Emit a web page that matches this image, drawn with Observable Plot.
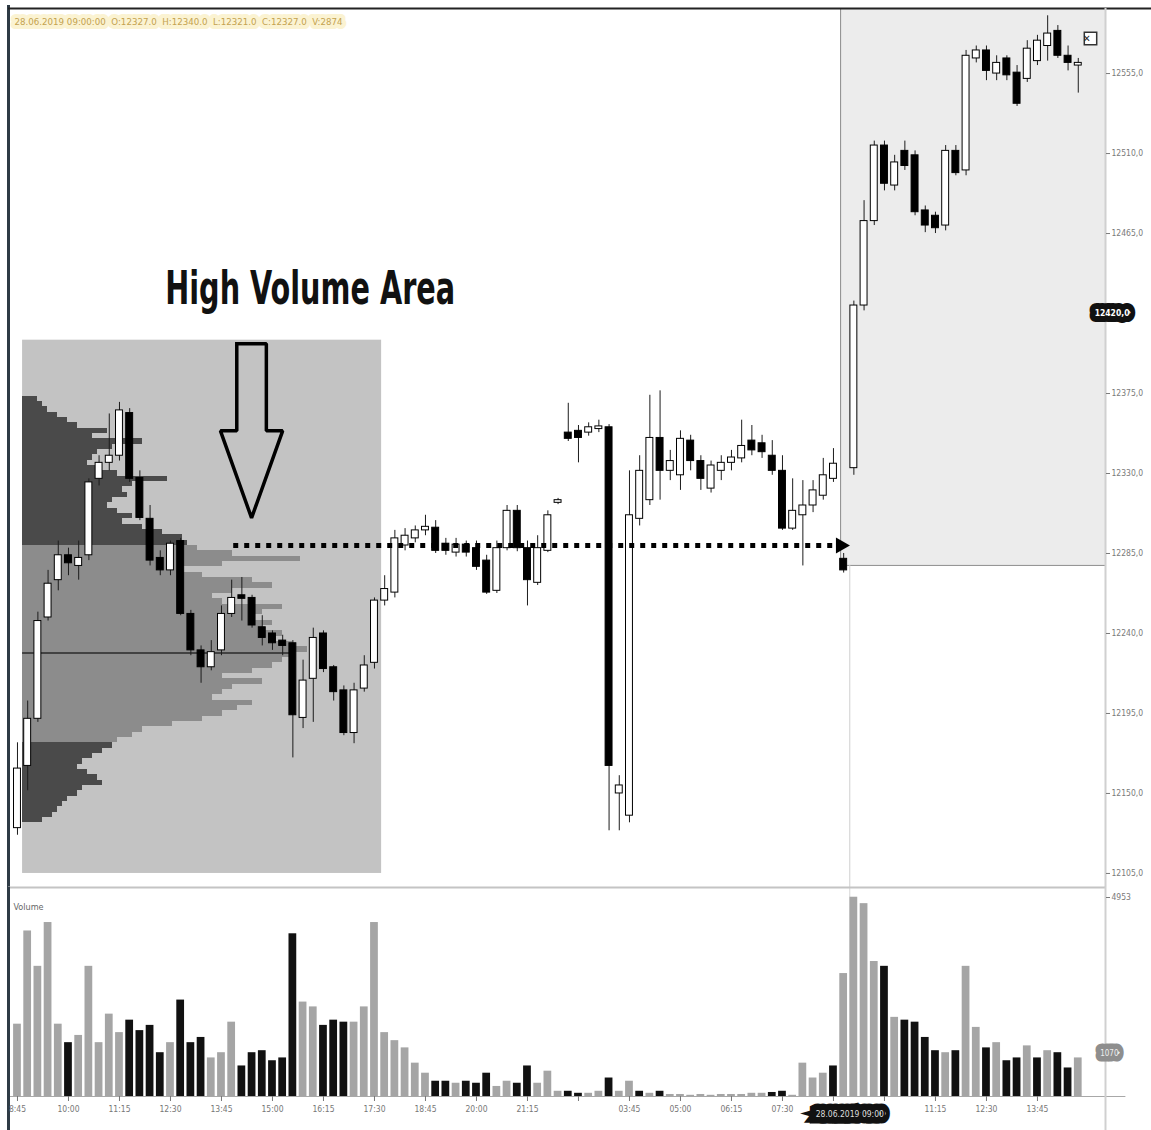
<!DOCTYPE html>
<html><head><meta charset="utf-8">
<script src="https://cdn.jsdelivr.net/npm/d3@7"></script>
<script src="https://cdn.jsdelivr.net/npm/@observablehq/plot@0.6"></script>
<style>
html,body{margin:0;padding:0;background:#fff;}
#chart{width:1151px;height:1130px;overflow:hidden;position:relative;}
#chart svg{display:block;overflow:visible;}
</style></head><body><div id="chart"></div>
<script>
// ---------- DATA (15-minute candles, bar index 0..104) ----------
const opens  = [12130.5,12165.5,12192,12249,12270,12284,12278,12284,12327,12336,12340,12364,12327.5,12304.5,12282.5,12275.5,12292,12251,12230.5,12221,12230.5,12251,12261.5,12260,12243.5,12240,12236,12234.5,12192.5,12214.5,12240,12221,12208,12184,12209,12223.5,12258.5,12263,12289.5,12293.5,12298,12299.5,12290.5,12285.5,12290,12288,12281,12264,12288,12309,12288,12268.5,12286.5,12313.5,12353,12354,12353,12355,12356,12150,12137.5,12304.5,12315,12350,12331.5,12329,12348.5,12337,12321.5,12331.5,12336,12338.5,12348.5,12347,12340,12331.5,12299,12306.5,12312,12317.5,12327,12282,12333,12424.5,12472,12514.5,12492,12511.5,12509,12478,12475,12469.5,12511.5,12500.5,12563.5,12568,12555,12563.5,12555.5,12552,12562,12570.5,12579,12565,12559.5];
const highs  = [12178.5,12202,12252,12275.5,12292,12288,12292,12327,12340,12363.5,12370,12366.5,12331.5,12312,12286.5,12292,12293.5,12253,12233,12236,12255.5,12270,12271.5,12261.5,12250,12241.5,12239,12236,12225,12243,12241.5,12222,12210.5,12212,12227.5,12260,12272.5,12298,12299,12300.5,12306.5,12303.5,12293.5,12293.5,12292,12292,12284,12292,12312,12312,12292,12295,12309,12316,12369.5,12357,12358.5,12360,12357.5,12160,12331.5,12340,12374,12376.5,12343,12354,12351.5,12340,12337,12340,12343,12360,12357,12351.5,12348.5,12340,12327,12326,12326,12338.5,12344,12285,12427,12483.5,12517,12517,12509,12517,12511.5,12480.5,12477,12514.5,12514.5,12568,12570.5,12570.5,12565,12565,12559.5,12573.5,12576.5,12587.5,12582,12570.5,12563.5];
const lows   = [12126.5,12151.5,12190,12247,12264,12272.5,12270,12281,12323,12331.5,12337,12325,12303.5,12278,12272.5,12272.5,12250,12227.5,12212,12219,12227.5,12249,12247,12243,12233,12230.5,12227.5,12170,12186.5,12190,12218,12202,12182.5,12178,12207,12220,12255.5,12260,12286.5,12291,12295,12285,12284,12283,12283,12275.5,12262,12262.5,12286.5,12286,12255.5,12267,12285.5,12312.5,12348,12336,12351,12353,12129,12129,12133.5,12300.5,12312,12315,12326,12320.5,12331.5,12320.5,12319,12326,12331.5,12336,12340,12338.5,12329,12298,12298,12278,12308,12315,12325,12274,12329,12421.5,12469.5,12489,12489,12500.5,12475,12465.5,12465,12466.5,12497.5,12497.5,12561,12551,12551,12551,12536.5,12550,12559.5,12562,12563.5,12556.5,12544];
const closes = [12164,12192,12247,12268,12284,12279.5,12282.5,12325,12336,12340,12365.5,12327,12305,12281,12275.5,12290.5,12251,12230.5,12221,12229.5,12251,12260,12259.5,12244.5,12237.5,12234.5,12233,12194,12213.5,12237.5,12220,12207,12184,12208,12222,12258.5,12265,12293.5,12295,12298,12300,12286.5,12286.5,12290,12285.5,12277.5,12263,12288,12309,12288,12270,12288,12306.5,12315,12349.5,12350,12356,12356.5,12165.5,12154.5,12306.5,12331.5,12350,12331.5,12337,12349.5,12337,12327,12334.5,12336,12339,12345.5,12343,12342,12331.5,12299,12309,12312,12320.5,12329,12335.5,12275.5,12424.5,12472,12514.5,12493,12505,12503,12477,12469.5,12468,12511.5,12499,12565,12568,12556.5,12561,12554,12538,12569,12573.5,12577.5,12565,12561,12561];
const volumes = [1800,4120,3240,4330,1800,1340,1520,3240,1340,2050,1590,1900,1640,1770,1090,1340,2400,1340,1470,960,1090,1850,760,1090,1140,890,960,4050,2350,2230,1770,1900,1850,1850,2230,4330,1590,1390,1210,830,580,380,380,330,380,330,580,250,380,330,760,330,630,130,130,80,80,130,460,130,380,130,80,130,50,50,30,50,30,50,50,50,80,80,100,130,30,830,460,580,760,3060,4960,4800,3360,3240,1970,1900,1850,1470,1140,1090,1140,3240,1720,1210,1340,890,960,1260,960,1140,1090,710,960];
const downVolumeBars = [5,11,12,13,14,16,17,18,22,23,24,25,26,27,30,31,32,41,42,44,45,46,49,50,54,55,58,61,63,74,75,80,85,87,88,89,90,92,95,97,98,100,102,103];

// volume profile of the first session (price level -> contracts)
const profileLevels = [12372,12369,12366,12363,12360,12357,12354,12351,12348,12345,12342,12339,12336,12333,12330,12327,12324,12321,12318,12315,12312,12309,12306,12303,12300,12297,12294,12291,12288,12285,12282,12279,12276,12273,12270,12267,12264,12261,12258,12255,12252,12249,12246,12243,12240,12237,12234,12231,12228,12225,12222,12219,12216,12213,12210,12207,12204,12201,12198,12195,12192,12189,12186,12183,12180,12177,12174,12171,12168,12165,12162,12159,12156,12153,12150,12147,12144,12141,12138,12135];
const profileVolumes = [150,200,250,350,450,550,850,700,1200,900,750,700,650,800,950,1450,1100,1000,1050,900,850,950,1100,1000,1200,1400,1600,1650,1750,2100,2780,2000,1600,1800,2300,2500,2100,1900,2000,2600,2400,2300,2500,2400,2600,2500,2700,2850,2700,2600,2500,2300,2000,2400,2100,2000,1900,2300,2150,2000,1800,1500,1200,1100,950,900,800,700,600,550,650,750,800,600,550,450,400,350,300,200];
const valueAreaHigh = 12288, valueAreaLow = 12178, pocPrice = 12229;

// axis ticks (labels hidden under the cursor box are blank)
const priceTicks = [12555,12510,12465,12375,12330,12285,12240,12195,12150,12105];
const timeTickBars = [0,5,10,15,20,25,30,35,40,45,50,55,60,65,70,75,80,85,90,95,100];
const timeTickLabels = ["8:45","10:00","11:15","12:30","13:45","15:00","16:15","17:30","18:45","20:00","21:15","","03:45","05:00","06:15","07:30","","","11:15","12:30","13:45"];
const volumeTopTick = 4953, lastVolumeLabel = 1070;
const badgePrice = 12420;
const cursorDate = "28.06.2019 09:00";
const headerText = "28.06.2019 09:00:00  O:12327.0  H:12340.0  L:12321.0  C:12327.0  V:2874";

// annotation anchors (bar index / price)
const profileStart = 0.5, profileEnd = 35.7, profileTop = 12405, profileBottom = 12105, pocEnd = 27.1;
const hvaLevel = 12289.5, hvaFrom = 21.2, hvaTo = 80.3;
const selectionStart = 80.7, selectionLow = 12278.3, crossBar = 81.6;
const arrowX = [21.5,24.4,24.4,26.0,22.95,19.9,21.5,21.5];
const arrowY = [12403,12403,12354,12354,12305,12354,12354,12403];
const titleBar = 28.7, titlePrice = 12434;

// ---------- CHART ----------
const W = 1151;
const xDomain = [-0.88, 106.67];
const priceDomain = [12097.1, 12591.6];
const volDomain = [0, 5202];
const narrow = "'Liberation Sans Narrow','DejaVu Sans Condensed','Arial Narrow',sans-serif";
const fmt = d => d.toFixed(1).replace(".", ",");

const candles = opens.map((o, i) => ({i, o, h: highs[i], l: lows[i], c: closes[i]}));
const profile = profileLevels.map((p, k) => ({p, v: profileVolumes[k]}));
const profileUnit = 102; // contracts per bar slot of width
const arrowPts = arrowX.map((x, k) => ({x, y: arrowY[k]}));
const downSet = new Set(downVolumeBars);
const volData = volumes.map((v, i) => ({i, v, down: downSet.has(i)}));
const tickLabel = new Map(timeTickBars.map((b, k) => [b, timeTickLabels[k]]));

const price = Plot.plot({
  width: W, height: 887,
  marginLeft: 8, marginRight: 46, marginTop: 8, marginBottom: 0,
  x: {domain: xDomain, axis: null},
  y: {domain: priceDomain, axis: null},
  style: {background: "transparent", fontFamily: narrow, overflow: "visible"},
  marks: [
    Plot.rect([0], {x1: selectionStart, x2: xDomain[1], y1: selectionLow, y2: priceDomain[1], fill: "#ececec"}),
    Plot.ruleX([selectionStart], {y1: selectionLow, y2: priceDomain[1], stroke: "#8c8c8c"}),
    Plot.ruleY([selectionLow], {x1: selectionStart, x2: xDomain[1], stroke: "#8c8c8c"}),
    Plot.ruleX([crossBar], {y1: priceDomain[0], y2: selectionLow, stroke: "#cfcfcf"}),
    Plot.rect([0], {x1: profileStart, x2: profileEnd, y1: profileBottom, y2: profileTop, fill: "#c3c3c3"}),
    Plot.rect(profile, {x1: profileStart, x2: d => profileStart + d.v / profileUnit, y1: d => d.p - 1.55, y2: d => d.p + 1.55,
      fill: d => (d.p > valueAreaHigh || d.p < valueAreaLow) ? "#4a4a4a" : "#8c8c8c", shapeRendering: "crispEdges"}),
    Plot.ruleY([pocPrice], {x1: profileStart, x2: pocEnd, stroke: "#2a2a2a", strokeWidth: 1.5}),
    Plot.ruleX(candles, {x: "i", y1: "l", y2: "h", stroke: "#1c1c1c"}),
    Plot.rect(candles, {x1: d => d.i - 0.34, x2: d => d.i + 0.34, y1: "o", y2: "c",
      fill: d => d.c >= d.o ? "#ffffff" : "#000000", stroke: "#000", strokeWidth: 1}),
    Plot.ruleY([hvaLevel], {x1: hvaFrom, x2: hvaTo, stroke: "#000", strokeWidth: 5, strokeDasharray: "5,6"}),
    Plot.dot([hvaLevel], {x: hvaTo + 0.4, y: d => d, symbol: "triangle", rotate: 90, r: 6, fill: "#000", stroke: "none"}),
    Plot.line(arrowPts, {x: "x", y: "y", stroke: "#000", strokeWidth: 3.5, strokeLinejoin: "miter", strokeLinecap: "square"}),
    Plot.text(["High Volume Area"], {x: titleBar, y: titlePrice, text: d => d, fontSize: 47, fontWeight: "bold",
      fontFamily: narrow, fill: "#111", textAnchor: "middle", lineAnchor: "middle"}),
    Plot.ruleX([xDomain[0]], {stroke: "#2f3b45", strokeWidth: 3, insetTop: -3}),
    Plot.ruleY([priceDomain[1]], {x1: xDomain[0], x2: xDomain[1] + 5, stroke: "#222", strokeWidth: 2}),
    Plot.ruleX([xDomain[1]], {stroke: "#d0d0d0", strokeWidth: 2}),
    Plot.axisY(priceTicks, {anchor: "right", label: null, tickSize: 4, tickPadding: 2, tickFormat: fmt, fontSize: 8.5, color: "#7a7a7a"}),
    Plot.text([badgePrice], {y: d => d, frameAnchor: "right", dx: 24, text: fmt, fontSize: 8.5, fontWeight: "bold",
      fill: "#fff", stroke: "#111", strokeWidth: 12, strokeLinejoin: "round"}),
    Plot.text([headerText], {frameAnchor: "top-left", dx: 6, dy: 10, text: d => d, fontSize: 9, fill: "#c4a24e",
      stroke: "#fbf3d2", strokeWidth: 8, textAnchor: "start"}),
    Plot.dot([0], {frameAnchor: "top-right", dx: -15, dy: 30, symbol: "square", r: 7, stroke: "#333", fill: "#fff", strokeWidth: 1.5}),
    Plot.text(["✕"], {frameAnchor: "top-right", dx: -15, dy: 30, text: d => d, fontSize: 10, fill: "#222", lineAnchor: "middle"})
  ]
});

const vol = Plot.plot({
  width: W, height: 243,
  marginLeft: 8, marginRight: 46, marginTop: 0, marginBottom: 34,
  x: {domain: xDomain, axis: null},
  y: {domain: volDomain, axis: null},
  style: {background: "transparent", fontFamily: narrow, overflow: "visible"},
  marks: [
    Plot.ruleX([crossBar], {stroke: "#d6d6d6"}),
    Plot.rect(volData, {x1: d => d.i - 0.38, x2: d => d.i + 0.38, y1: 0, y2: "v", fill: d => d.down ? "#111" : "#a5a5a5"}),
    Plot.ruleY([volDomain[1]], {stroke: "#c4c4c4", strokeWidth: 2}),
    Plot.ruleY([0], {x1: xDomain[0], x2: xDomain[1] + 2, stroke: "#a8a8a8"}),
    Plot.ruleX([xDomain[0]], {stroke: "#2f3b45", strokeWidth: 3, insetBottom: -34}),
    Plot.ruleX([xDomain[1]], {stroke: "#d0d0d0", strokeWidth: 2, insetBottom: -34}),
    Plot.axisX(timeTickBars, {anchor: "bottom", label: null, tickSize: 5, tickPadding: 4, tickFormat: d => tickLabel.get(d), fontSize: 8.5, color: "#777"}),
    Plot.text([cursorDate], {x: crossBar, frameAnchor: "bottom", dy: 20, text: d => d, fontSize: 8.5,
      fill: "#ddd", stroke: "#111", strokeWidth: 13, strokeLinejoin: "miter"}),
    Plot.axisY([volumeTopTick], {anchor: "right", label: null, tickSize: 4, tickPadding: 2, fontSize: 8.5, color: "#7a7a7a", tickFormat: d => String(d)}),
    Plot.text([lastVolumeLabel], {y: d => d, frameAnchor: "right", dx: 13, text: d => String(d), fontSize: 8,
      fill: "#eee", stroke: "#8e8e8e", strokeWidth: 11}),
    Plot.text(["Volume"], {frameAnchor: "top-left", dx: 5, dy: 16, text: d => d, fontSize: 9, fill: "#666", textAnchor: "start"})
  ]
});

const root = document.getElementById("chart");
root.appendChild(price);
root.appendChild(vol);

d3.select(price).selectAll("text")
  .filter(function() { return this.textContent === "High Volume Area"; })
  .attr("textLength", 290).attr("lengthAdjust", "spacingAndGlyphs");
d3.select(price).selectAll("text")
  .filter(function() { return this.textContent === headerText; })
  .attr("textLength", 328).attr("lengthAdjust", "spacingAndGlyphs");
</script>
</body></html>
